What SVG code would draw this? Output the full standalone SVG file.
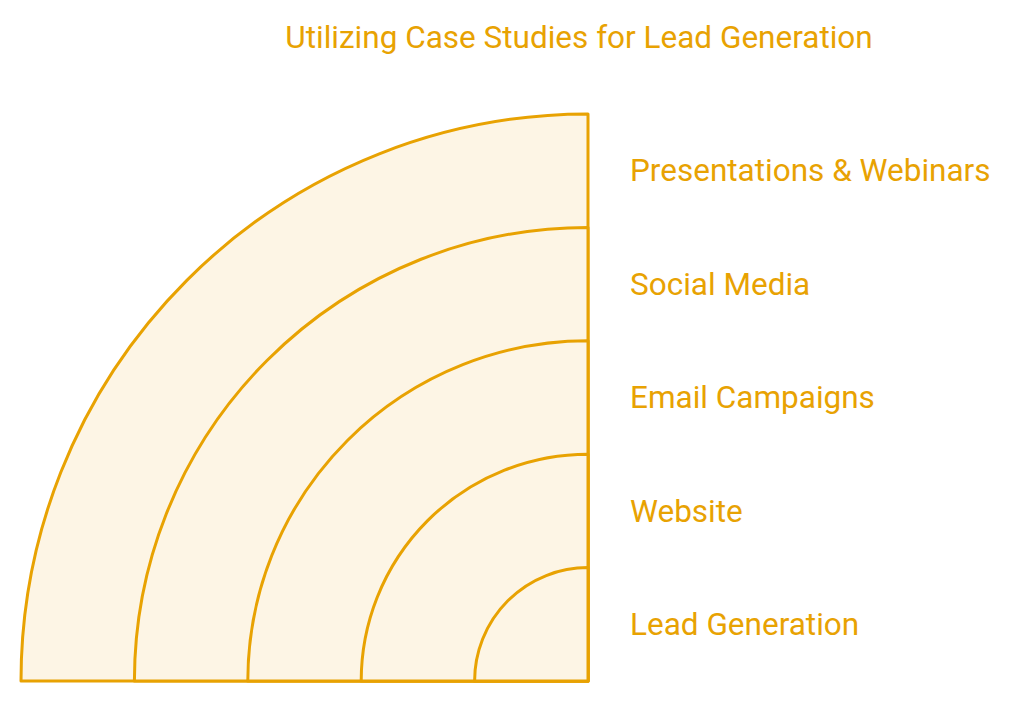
<svg xmlns="http://www.w3.org/2000/svg" width="1024" height="702" viewBox="0 0 1024 702">
<style>
.ring{fill:#FDF5E5;stroke:#E8A202;stroke-width:3;stroke-linejoin:round}
.t{font-family:Roboto,"Liberation Sans",sans-serif;font-size:31.5px;fill:#E8A202}
</style>
<rect width="1024" height="702" fill="#fff"/>
<text class="t" x="579" y="48" text-anchor="middle">Utilizing Case Studies for Lead Generation</text>
<g id="presentations-webinars">
<path class="ring" d="M21,681 A567,567 0 0 1 588,114 L588,681 Z"/>
<text class="t" x="630" y="181">Presentations &amp; Webinars</text>
</g>
<g id="social-media">
<path class="ring" d="M134.4,681 A453.6,453.6 0 0 1 588,227.4 L588,681 Z"/>
<text class="t" x="630" y="294.5">Social Media</text>
</g>
<g id="email-campaigns">
<path class="ring" d="M247.8,681 A340.2,340.2 0 0 1 588,340.8 L588,681 Z"/>
<text class="t" x="630" y="408">Email Campaigns</text>
</g>
<g id="website">
<path class="ring" d="M361.2,681 A226.8,226.8 0 0 1 588,454.2 L588,681 Z"/>
<text class="t" x="630" y="521.5">Website</text>
</g>
<g id="lead-generation">
<path class="ring" d="M474.6,681 A113.4,113.4 0 0 1 588,567.6 L588,681 Z"/>
<text class="t" x="630" y="635">Lead Generation</text>
</g>
<g id="connectors"></g>
</svg>
